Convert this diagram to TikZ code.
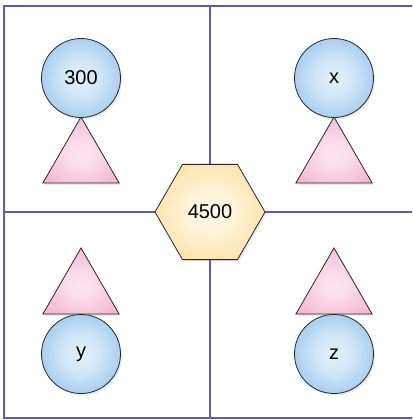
\documentclass[tikz,border=0pt]{standalone}
\usepackage{fontspec}
\setmainfont{Liberation Sans}
\usetikzlibrary{shapes.geometric,shadows}
\definecolor{gridc}{RGB}{92,92,170}
\definecolor{bluein}{RGB}{226,240,252}
\definecolor{blueout}{RGB}{108,172,226}
\definecolor{pinkin}{RGB}{252,228,240}
\definecolor{pinkout}{RGB}{240,166,200}
\definecolor{yelin}{RGB}{255,248,232}
\definecolor{yelout}{RGB}{255,208,118}
\definecolor{edgec}{RGB}{40,40,40}
\pgfdeclareradialshading{softblue}{\pgfpoint{0bp}{0bp}}{color(0bp)=(bluein); color(12bp)=(bluein!85!blueout); color(45bp)=(blueout); color(50bp)=(blueout)}
\pgfdeclareradialshading{softpink}{\pgfpoint{0bp}{-4bp}}{color(0bp)=(pinkin); color(10bp)=(pinkin!85!pinkout); color(40bp)=(pinkout); color(50bp)=(pinkout)}
\pgfdeclareradialshading{softyel}{\pgfpoint{0bp}{0bp}}{color(0bp)=(yelin); color(12bp)=(yelin!85!yelout); color(45bp)=(yelout); color(50bp)=(yelout)}
\tikzset{
  gridline/.style={draw=gridc,line width=1.7pt},
  shd/.style={drop shadow={shadow xshift=1.5pt,shadow yshift=-2pt,opacity=0.18}},
  ball/.style={circle,draw=edgec,line width=0.8pt,minimum size=79pt,inner sep=0pt,
    shading=softblue,shd,font=\fontsize{20}{24}\selectfont},
  tri/.style={regular polygon,regular polygon sides=3,draw=edgec,line width=0.8pt,
    minimum size=88pt,inner sep=0pt,shading=softpink,shd},
  hexa/.style={regular polygon,regular polygon sides=6,draw=edgec,line width=0.8pt,
    minimum size=110pt,inner sep=0pt,shading=softyel,shd,
    font=\fontsize{20}{24}\selectfont}
}
\begin{document}
\begin{tikzpicture}[x=1pt,y=-1pt]
\useasboundingbox (0,0) rectangle (412,420);
\clip (0,0) rectangle (412,420);
\path[gridline] (4,6) -- (414,6);
\path[gridline] (4,418) -- (414,418);
\path[gridline] (4,5) -- (4,419);
\path[gridline] (210,6) -- (210,418);
\path[gridline] (4,212) -- (414,212);
% top-left
\node[tri] (t1) at (81,161) {};
\node[ball] (c1) at (81,78) {300};
% top-right
\node[tri] (t2) at (334,161) {};
\node[ball] (c2) at (334,78) {x};
% bottom-left
\node[tri] (t3) at (81,292) {};
\node[ball] (c3) at (81,354) {y};
% bottom-right
\node[tri] (t4) at (334,292) {};
\node[ball] (c4) at (334,354) {z};
% center
\node[hexa] (h) at (210,212) {4500};
\end{tikzpicture}
\end{document}
